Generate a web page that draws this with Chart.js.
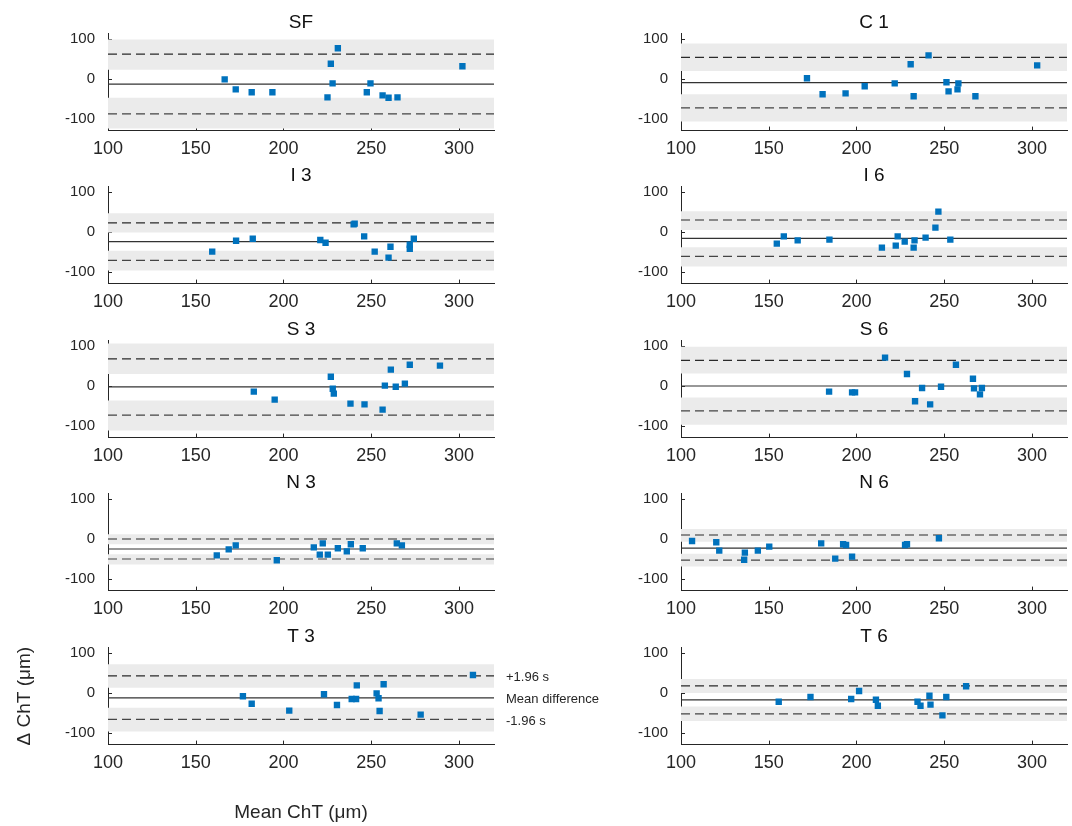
<!DOCTYPE html>
<html>
<head>
<meta charset="utf-8">
<script src="https://cdn.jsdelivr.net/npm/chart.js@4.4.0/dist/chart.umd.min.js"></script>
<style>
  html, body { margin: 0; padding: 0; background: #fff; }
  body { width: 1072px; height: 826px; position: relative; overflow: hidden; }
  canvas { position: absolute; }
</style>
</head>
<body>
<script>
// Bland-Altman panels: mean ChT (x) vs difference (y)
const panelTitles = ['SF', 'C 1', 'I 3', 'I 6', 'S 3', 'S 6', 'N 3', 'N 6', 'T 3', 'T 6'];

const sfX = [166.5, 172.8, 181.9, 193.7, 225.1, 227, 228, 231, 247.5, 249.6, 256.5, 259.9, 265, 302];
const sfY = [-2, -27, -34, -34, -47, 37, -12, 76, -34, -12, -42, -48, -47, 31];
const c1X = [171.8, 180.7, 193.8, 204.7, 221.8, 230.9, 232.6, 241.1, 251.3, 252.5, 257.6, 258.1, 267.8, 303];
const c1Y = [1, -39, -37, -19, -12, 36, -44, 58, -9, -32, -27, -12, -44, 33];
const i3X = [159.4, 173, 182.5, 221, 224, 240, 240.6, 246, 252, 259.9, 261, 272, 272, 274.3];
const i3Y = [-50, -23, -18, -21, -28, 18, 20, -12, -50, -65, -38, -33, -43, -18];
const i6X = [154.6, 158.6, 166.5, 184.6, 214.5, 222.4, 223.5, 227.5, 232.6, 233.1, 239.4, 245, 246.7, 253.5];
const i6Y = [-30, -12, -22, -20, -40, -35, -12, -25, -40, -22, -15, 10, 50, -20];
const s3X = [183.1, 195, 227, 228.1, 228.7, 238.2, 246.2, 256.5, 257.8, 261.2, 264, 269.2, 272, 289.2];
const s3Y = [-15, -35, 22, -8, -20, -45, -47, -60, 0, 40, -3, 5, 52, 50];
const s6X = [184.4, 197.5, 199.2, 216.3, 228.8, 233.4, 237.4, 242, 248.2, 256.7, 266.4, 267, 270.4, 271.5];
const s6Y = [-15, -17, -17, 70, 29, -39, -6, -47, -3, 52, 17, -7, -22, -6];
const n3X = [162, 168.8, 172.8, 196.2, 217.3, 220.7, 222.4, 225.3, 231, 236.1, 238.4, 245.2, 264.6, 267.5];
const n3Y = [-42, -27, -17, -54, -22, -40, -12, -40, -24, -32, -14, -24, -12, -17];
const n6X = [106.3, 120.1, 121.8, 136.4, 136, 143.8, 150.3, 179.9, 187.9, 192.4, 194.1, 197.5, 227.7, 228.8, 247];
const n6Y = [-6, -9, -30, -35, -53, -30, -20, -12, -50, -14, -16, -45, -16, -14, 1];
const t3X = [176.9, 181.9, 203.3, 223.1, 230.5, 238.9, 241.4, 241.8, 253.1, 254.2, 254.8, 257.1, 278.2, 308];
const t3Y = [-9, -28, -45, -4, -31, -16, -16, 18, -2, -14, -46, 21, -55, 44];
const t6X = [155.7, 173.8, 197, 201.5, 211.1, 212.2, 234.8, 236.5, 241.6, 242.2, 249, 251.2, 262.5];
const t6Y = [-23, -11, -16, 4, -18, -33, -23, -33, -8, -30, -57, -11, 16];

const panelX = [sfX, c1X, i3X, i6X, s3X, s6X, n3X, n6X, t3X, t6X];
const panelY = [sfY, c1Y, i3Y, i6Y, s3Y, s6Y, n3Y, n6Y, t3Y, t6Y];

// mean difference and limits of agreement (+/-1.96 s), with their CI bands
const meanDiff = [-14, -10, -25, -17, -3, -1, -26, -24, -13, -18];
const upperLoA = [61, 53, 22, 29, 67, 63, -1, 9, 42, 17];
const lowerLoA = [-88, -73, -72, -62, -74, -63, -51, -54, -67, -53];
const upperBand = [[22, 98], [19, 88], [-2, 46], [4, 51], [29, 105], [30, 97], [-14, 11], [-8, 24], [12, 71], [-1, 34]];
const lowerBand = [[-125, -48], [-107, -39], [-97, -48], [-87, -39], [-112, -37], [-98, -30], [-65, -39], [-70, -38], [-97, -38], [-71, -35]];

const xRange = [100, 320];
const yRange = [-130, 112];
const xTicks = [100, 150, 200, 250, 300];
const yTicks = [-100, 0, 100];
const limitLabels = ['+1.96 s', 'Mean difference', '-1.96 s'];

const FONT = "'Liberation Sans', Helvetica, Arial, sans-serif";
const INK = '#262626';
const BLUE = '#0072BD';
const BAND = '#ebebeb';

const PLOT_W = 386;
const PLOT_H = 96.8;
const TITLE_H = 22.8; // 19px * 1.2

// MATLAB-style inward tick marks
const inwardTicks = {
  id: 'inwardTicks',
  beforeDatasetsDraw(chart) {
    const { ctx, chartArea, scales } = chart;
    ctx.save();
    ctx.strokeStyle = INK;
    ctx.lineWidth = 1;
    ctx.beginPath();
    xTicks.forEach(v => {
      const px = Math.round(scales.x.getPixelForValue(v)) + 0.5;
      ctx.moveTo(px, chartArea.bottom);
      ctx.lineTo(px, chartArea.bottom - 4);
    });
    yTicks.forEach(v => {
      const py = Math.round(scales.y.getPixelForValue(v)) + 0.5;
      ctx.moveTo(chartArea.left, py);
      ctx.lineTo(chartArea.left + 4, py);
    });
    ctx.stroke();
    ctx.restore();
  }
};

// text labels to the right of the T 3 panel
const limitText = {
  id: 'limitText',
  afterDatasetsDraw(chart, args, opts) {
    if (!opts.show) return;
    const { ctx, chartArea, scales } = chart;
    const i = opts.index;
    const vals = [upperLoA[i], meanDiff[i], lowerLoA[i]];
    ctx.save();
    ctx.font = '13px ' + FONT;
    ctx.fillStyle = INK;
    ctx.textAlign = 'left';
    ctx.textBaseline = 'middle';
    vals.forEach((v, k) => {
      ctx.fillText(limitLabels[k], chartArea.right + 12, scales.y.getPixelForValue(v) + 2);
    });
    ctx.restore();
  }
};

const hLine = (v, color, width, dash) => ({
  type: 'line',
  data: [{ x: xRange[0], y: v }, { x: xRange[1], y: v }],
  borderColor: color,
  borderWidth: width,
  borderDash: dash,
  pointRadius: 0,
  fill: false
});

const bandEdge = (v, fill) => ({
  type: 'line',
  data: [{ x: xRange[0], y: v }, { x: xRange[1], y: v }],
  borderWidth: 0,
  borderColor: 'rgba(0,0,0,0)',
  backgroundColor: BAND,
  pointRadius: 0,
  fill: fill
});

function makePanel(i) {
  const col = i % 2;
  const row = Math.floor(i / 2);
  const withLabels = i === 8;
  const plotLeft = col ? 681 : 108;
  const plotTop = 33.5 + row * 153.5;
  const yW = withLabels ? 108 : 60;
  const padR = col ? 5 : (withLabels ? 110 : 8);
  const left = plotLeft - yW;
  const top = Math.round(plotTop - TITLE_H);
  const height = withLabels ? 826 - top : 160;
  const width = yW + PLOT_W + padR;
  const xH = height - TITLE_H - PLOT_H;

  const cv = document.createElement('canvas');
  cv.width = width;
  cv.height = height;
  cv.style.left = left + 'px';
  cv.style.top = top + 'px';
  document.body.appendChild(cv);

  const pts = panelX[i].map((x, j) => ({ x: x, y: panelY[i][j] }));

  new Chart(cv.getContext('2d'), {
    type: 'scatter',
    data: {
      datasets: [
        {
          data: pts,
          pointStyle: 'rect',
          pointRadius: 4.5,
          borderWidth: 0,
          backgroundColor: BLUE,
          borderColor: BLUE
        },
        hLine(meanDiff[i], '#333', 1.2, []),
        hLine(upperLoA[i], '#2a2a2a', 1.2, [9, 5]),
        hLine(lowerLoA[i], '#444', 1.2, [9, 5]),
        bandEdge(upperBand[i][1], '+1'),
        bandEdge(upperBand[i][0], false),
        bandEdge(lowerBand[i][1], '+1'),
        bandEdge(lowerBand[i][0], false)
      ]
    },
    options: {
      responsive: false,
      animation: false,
      events: [],
      layout: { padding: { left: 0, top: 0, right: padR, bottom: 0 } },
      plugins: {
        legend: { display: false },
        tooltip: { enabled: false },
        title: {
          display: true,
          text: panelTitles[i],
          fullSize: false,
          color: '#111',
          font: { family: FONT, size: 19, weight: 'normal' },
          padding: 0
        },
        limitText: { show: withLabels, index: i }
      },
      scales: {
        x: {
          type: 'linear',
          min: xRange[0],
          max: xRange[1],
          afterBuildTicks: s => { s.ticks = xTicks.map(v => ({ value: v })); },
          afterFit: s => { s.height = xH; },
          grid: { display: false, drawTicks: false },
          border: { display: true, color: INK, width: 1 },
          ticks: { color: INK, font: { family: FONT, size: 18 }, padding: 8, maxRotation: 0 },
          title: {
            display: withLabels,
            text: 'Mean ChT (μm)',
            color: INK,
            font: { family: FONT, size: 19 },
            padding: { top: 0, bottom: 1.6 }
          }
        },
        y: {
          type: 'linear',
          min: yRange[0],
          max: yRange[1],
          afterBuildTicks: s => { s.ticks = yTicks.map(v => ({ value: v })); },
          afterFit: s => { s.width = yW; },
          grid: { display: false, drawTicks: false },
          border: { display: true, color: INK, width: 1 },
          ticks: { color: INK, font: { family: FONT, size: 15 }, padding: 13 },
          title: {
            display: withLabels,
            text: 'Δ ChT (μm)',
            color: INK,
            font: { family: FONT, size: 19 },
            padding: { top: 13.6, bottom: 0 }
          }
        }
      }
    },
    plugins: [inwardTicks, limitText]
  });
}

panelTitles.forEach((t, i) => makePanel(i));
</script>
</body>
</html>
